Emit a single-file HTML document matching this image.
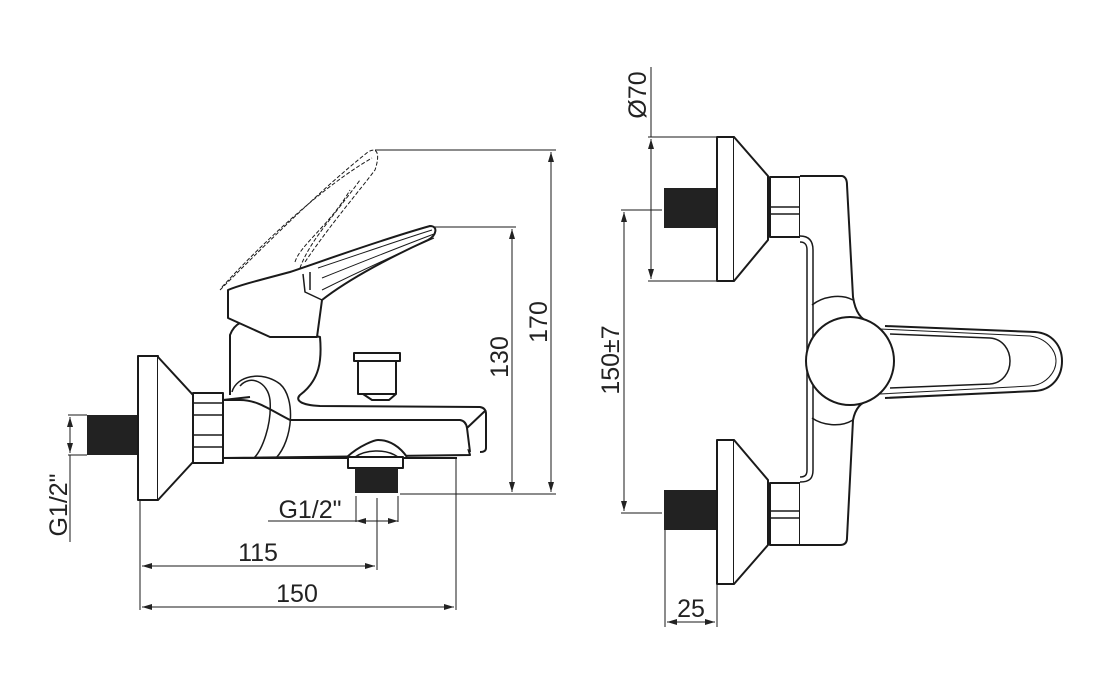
<!DOCTYPE html>
<html><head><meta charset="utf-8"><style>
html,body{margin:0;padding:0;background:#fff;}
svg{display:block;}
text{font-family:"Liberation Sans",sans-serif;font-size:25px;fill:#222;}
</style></head><body>
<svg width="1101" height="687" viewBox="0 0 1101 687" xmlns="http://www.w3.org/2000/svg">
<defs>
<marker id="a" viewBox="0 0 10 6" refX="10" refY="3" markerWidth="10" markerHeight="6" orient="auto-start-reverse" markerUnits="userSpaceOnUse"><path d="M0,0 L10,3 L0,6 z" fill="#222"/></marker>
</defs>
<g fill="none" stroke="#1a1a1a" stroke-width="1">
<line x1="375" y1="150" x2="556" y2="150"/>
<line x1="551" y1="152" x2="551" y2="492" marker-start="url(#a)" marker-end="url(#a)"/>
<line x1="432" y1="227" x2="516" y2="227"/>
<line x1="512" y1="229" x2="512" y2="492" marker-start="url(#a)" marker-end="url(#a)"/>
<line x1="400" y1="494" x2="556" y2="494"/>
<line x1="68" y1="415" x2="87" y2="415"/>
<line x1="68" y1="455" x2="87" y2="455"/>
<line x1="70" y1="417" x2="70" y2="453" marker-start="url(#a)" marker-end="url(#a)"/>
<line x1="70" y1="455" x2="70" y2="542"/>
<line x1="140" y1="500" x2="140" y2="610"/>
<line x1="356" y1="496" x2="356" y2="522"/>
<line x1="398" y1="496" x2="398" y2="522"/>
<line x1="377" y1="498" x2="377" y2="570"/>
<line x1="456" y1="458" x2="456" y2="610"/>
<line x1="268" y1="521" x2="398" y2="521"/>
<line x1="364" y1="521" x2="356" y2="521" marker-end="url(#a)"/>
<line x1="390" y1="521" x2="398" y2="521" marker-end="url(#a)"/>
<line x1="142" y1="566" x2="375" y2="566" marker-start="url(#a)" marker-end="url(#a)"/>
<line x1="142" y1="607" x2="454" y2="607" marker-start="url(#a)" marker-end="url(#a)"/>
</g>
<text x="310" y="518" text-anchor="middle">G1/2"</text>
<text x="258" y="561" text-anchor="middle">115</text>
<text x="297" y="602" text-anchor="middle">150</text>
<text transform="translate(547,322) rotate(-90)" text-anchor="middle">170</text>
<text transform="translate(508,357) rotate(-90)" text-anchor="middle">130</text>
<text transform="translate(67,505) rotate(-90)" text-anchor="middle">G1/2"</text>

<g fill="none" stroke="#1a1a1a" stroke-width="2" stroke-linejoin="round">
<rect x="87" y="415" width="51" height="40" fill="#222" stroke="none"/>
<rect x="138" y="356" width="20" height="144" fill="#fff"/>
<path d="M158,357 L193,395 L193,462 L158,500" fill="#fff"/>
<rect x="193" y="393" width="30" height="70" fill="#fff"/>
<line x1="193" y1="403" x2="223" y2="403" stroke-width="1.5"/>
<line x1="193" y1="415" x2="223" y2="415" stroke-width="1.5"/>
<line x1="193" y1="435" x2="223" y2="435" stroke-width="1.5"/>
<line x1="193" y1="447" x2="223" y2="447" stroke-width="1.5"/>
<!-- body -->
<path d="M223,400 L240,400 C258,400 270,410 290,420 L460,420 L470,455 L223,458 Z" fill="#fff"/>
<path d="M230,395 L230,335 C235,322 245,320 252,322 L320,337 C322,360 320,380 300,395 C295,400 300,405 320,406 L480,407 Q486,408 486,414 L486,448 Q486,452 480,452" fill="#fff"/>
<path d="M290,420 L460,420 Q466,421 467,428 L470,452 M467,428 L486,410"/>
<path d="M223,400 L250,397"/>
<path d="M232,392 C236,376 262,370 280,384 C296,398 293,440 276,458" stroke-width="1.5"/>
<path d="M240,386 C250,374 268,382 270,400 C272,425 262,450 254,458" stroke-width="1.5"/>
<path d="M223,458 L457,458"/>
<rect x="354" y="353" width="46" height="8" fill="#fff"/>
<rect x="358" y="361" width="38" height="33" fill="#fff"/>
<path d="M363,394 L372,400 L389,400 L396,394"/>
<path d="M347,457 C360,445 375,440 378,440 C390,440 400,447 407,457" fill="#fff"/>
<path d="M355,457 C365,450 385,448 398,457" stroke-width="1.5"/>
<rect x="348" y="457" width="55" height="11" fill="#fff"/>
<rect x="355" y="468" width="43" height="25" fill="#222" stroke="none"/>
<!-- lever -->
<path d="M228,290 L228,318 L270,337 L317,337 L322,300 C350,278 395,255 428,240 C437,235 438,226 430,226 C380,240 320,262 290,272 C260,280 240,285 228,290 Z" fill="#fff"/>
<path d="M303,274 L305,292 L322,300 M310,272 L310,290" stroke-width="1.5"/>
<path d="M318,268 C360,254 400,240 432,230 M322,278 C362,262 402,246 434,234 M322,290 C362,270 402,252 434,238" stroke-width="1"/>
<!-- dashed lever -->
<path d="M220,290 C260,250 320,190 368,152 C378,146 380,155 375,170 C360,190 330,225 305,262 M222,287 C265,240 325,185 372,158 M295,262 C300,245 330,225 350,190 M300,268 C310,240 335,215 360,180" stroke-dasharray="4,2" stroke-width="1"/>

<!-- RIGHT faucet -->
<rect x="664" y="188" width="53" height="40" fill="#222" stroke="none"/>
<rect x="664" y="490" width="53" height="40" fill="#222" stroke="none"/>
<rect x="717" y="137" width="17" height="144" fill="#fff"/>
<path d="M734,137 L768,176 L768,240 L734,281" fill="#fff"/>
<rect x="717" y="440" width="17" height="144" fill="#fff"/>
<path d="M734,440 L768,480 L768,545 L734,584" fill="#fff"/>
<rect x="770" y="177" width="30" height="60" fill="#fff"/>
<rect x="770" y="483" width="30" height="62" fill="#fff"/>
<line x1="770" y1="207" x2="800" y2="207" stroke-width="1.5"/>
<line x1="770" y1="214" x2="800" y2="214" stroke-width="1.5"/>
<line x1="770" y1="511" x2="800" y2="511" stroke-width="1.5"/>
<line x1="770" y1="518" x2="800" y2="518" stroke-width="1.5"/>
<path d="M800,176 L842,176 Q847,177 847,185 L853,297 C855,310 860,320 870,322 L870,400 C860,402 855,410 853,420 L847,538 Q847,545 840,545 L800,545" fill="#fff"/>
<path d="M800,236 C812,236 813,245 813,250 L813,470 C813,478 810,482 800,482 M800,242 C806,242 807,246 807,250 L807,470 C807,474 806,477 800,477" stroke-width="1.5"/>
<path d="M812,305 C822,297 840,293 853,300 M812,418 C822,425 840,428 853,420" stroke-width="1.5"/>
<path d="M885,326 L1035,332 C1052,333 1062,346 1062,361 C1062,377 1052,390 1035,391 L885,398" fill="#fff"/>
<path d="M890,334 L990,338 C1003,339 1010,350 1010,361 C1010,372 1003,383 990,384 L890,388" stroke-width="1.5"/>
<path d="M880,329 L1030,336 C1046,338 1056,350 1056,361 C1056,372 1046,385 1030,386 L880,394" stroke-width="1"/>
<circle cx="850" cy="361" r="44" fill="#fff"/>
</g>
<g fill="none" stroke="#1a1a1a" stroke-width="1">
<line x1="648" y1="137" x2="717" y2="137"/>
<line x1="648" y1="281" x2="717" y2="281"/>
<line x1="651" y1="67" x2="651" y2="137"/>
<line x1="651" y1="139" x2="651" y2="279" marker-start="url(#a)" marker-end="url(#a)"/>
<line x1="621" y1="210" x2="662" y2="210"/>
<line x1="621" y1="513" x2="662" y2="513"/>
<line x1="624" y1="212" x2="624" y2="511" marker-start="url(#a)" marker-end="url(#a)"/>
<line x1="665" y1="530" x2="665" y2="627"/>
<line x1="717" y1="584" x2="717" y2="627"/>
<line x1="667" y1="622" x2="715" y2="622" marker-start="url(#a)" marker-end="url(#a)"/>
</g>
<text transform="translate(646,95) rotate(-90)" text-anchor="middle">Ø70</text>
<text transform="translate(619,360) rotate(-90)" text-anchor="middle">150±7</text>
<text x="691" y="617" text-anchor="middle">25</text>
</svg>
</body></html>
